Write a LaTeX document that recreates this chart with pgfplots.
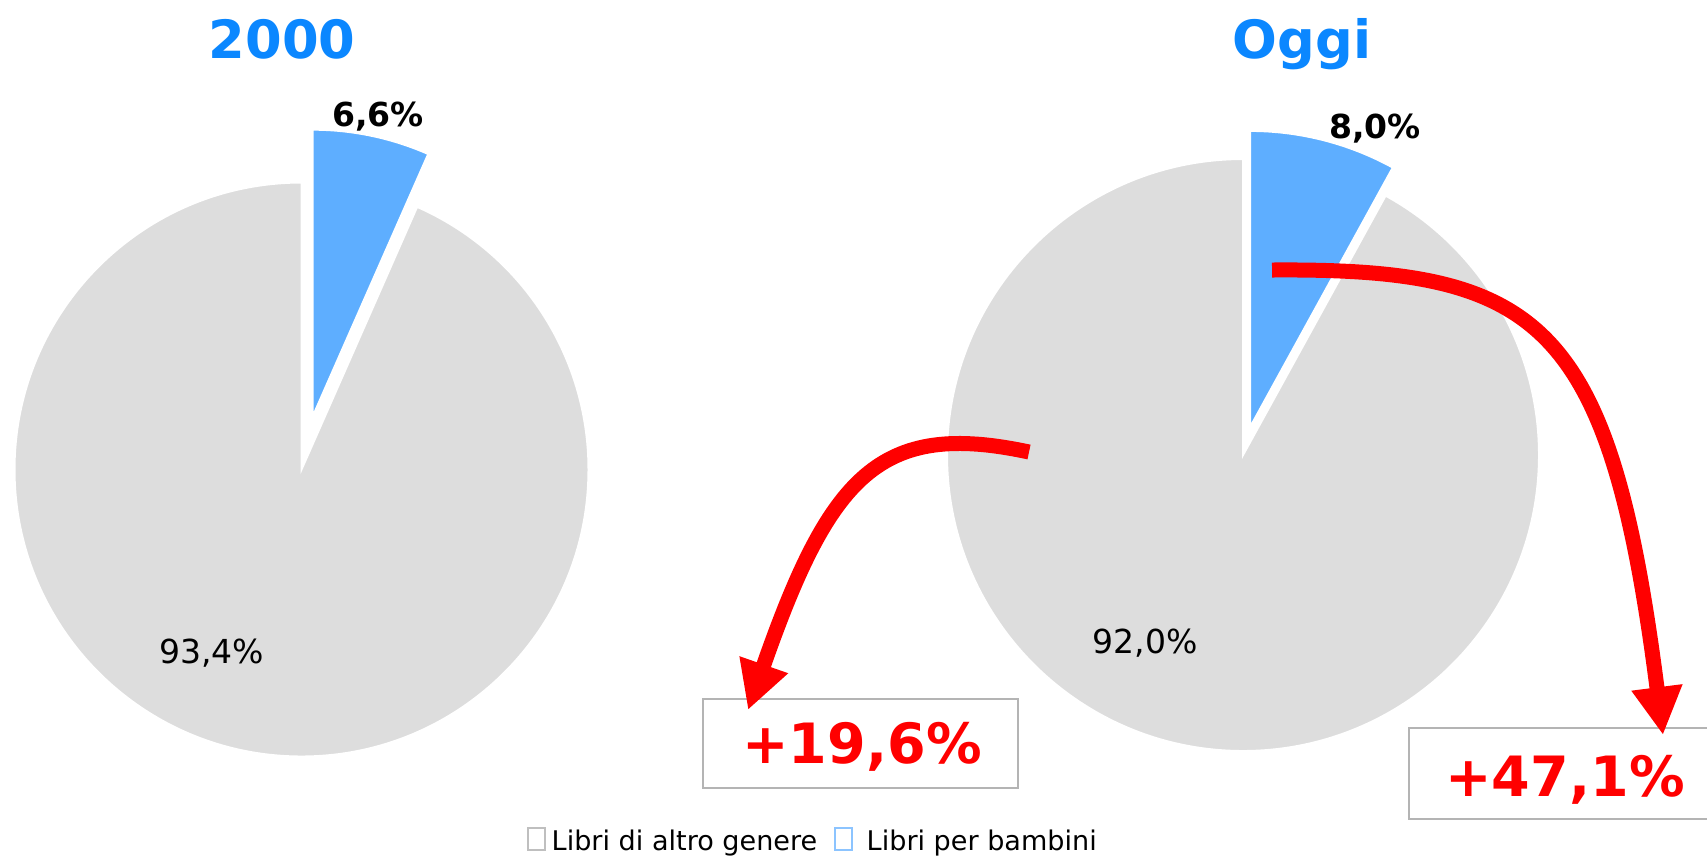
\documentclass[border=0pt]{standalone}
\usepackage{pgfplots}
\pgfplotsset{compat=1.18}
\usepackage{pgfplotstable}
\usepackage{fontspec}
\setmainfont{DejaVu Sans}
\usetikzlibrary{arrows.meta}
\definecolor{othergray}{HTML}{DDDDDD}
\definecolor{kidsblue}{HTML}{5EAEFF}
\definecolor{titleblue}{HTML}{0B87FF}
\definecolor{boxgray}{HTML}{B4B4B4}
\definecolor{legblue}{HTML}{8CC4FF}

% pie centre (px), radius (px), offset of the exploded slice (px), shares (%)
\pgfplotstableread{
pie cx cy r off other kids
0 301.5 469.5 287 54 93.4 6.6
1 1243 455 296 29 92.0 8.0
}\piedata

\begin{document}
\begin{tikzpicture}
% read the two pies
\pgfplotstablegetelem{0}{cx}\of\piedata \let\cxA\pgfplotsretval
\pgfplotstablegetelem{0}{cy}\of\piedata \let\cyA\pgfplotsretval
\pgfplotstablegetelem{0}{r}\of\piedata \pgfmathsetmacro\rA{\pgfplotsretval/100}
\pgfplotstablegetelem{0}{off}\of\piedata \pgfmathsetmacro\offA{\pgfplotsretval/100}
\pgfplotstablegetelem{0}{kids}\of\piedata \pgfmathsetmacro\kidsA{3.6*\pgfplotsretval}
\pgfplotstablegetelem{1}{cx}\of\piedata \let\cxB\pgfplotsretval
\pgfplotstablegetelem{1}{cy}\of\piedata \let\cyB\pgfplotsretval
\pgfplotstablegetelem{1}{r}\of\piedata \pgfmathsetmacro\rB{\pgfplotsretval/100}
\pgfplotstablegetelem{1}{off}\of\piedata \pgfmathsetmacro\offB{\pgfplotsretval/100}
\pgfplotstablegetelem{1}{kids}\of\piedata \pgfmathsetmacro\kidsB{3.6*\pgfplotsretval}
\pgfmathsetmacro\startA{90-\kidsA}
\pgfmathsetmacro\midA{90-\kidsA/2}
\pgfmathsetmacro\endA{450-\kidsA}
\pgfmathsetmacro\startB{90-\kidsB}
\pgfmathsetmacro\midB{90-\kidsB/2}
\pgfmathsetmacro\endB{450-\kidsB}

\begin{axis}[name=ax,
    scale only axis, width=17.07cm, height=8.56cm,
    xmin=0, xmax=1707, ymin=0, ymax=856, y dir=reverse,
    hide axis]

% pie 2000
\fill[othergray, draw=white, line width=0.02cm] (axis cs:\cxA,\cyA) -- ++(90:\rA cm)
    arc[start angle=90, end angle=\endA, radius=\rA cm] -- cycle;
\fill[kidsblue, draw=white, line width=0.02cm] (axis cs:\cxA,\cyA) ++(\midA:\offA cm) -- ++(90:\rA cm)
    arc[start angle=90, end angle=\startA, radius=\rA cm] -- cycle;
% pie oggi
\fill[othergray, draw=white, line width=0.02cm] (axis cs:\cxB,\cyB) -- ++(90:\rB cm)
    arc[start angle=90, end angle=\endB, radius=\rB cm] -- cycle;
\fill[kidsblue, draw=white, line width=0.02cm] (axis cs:\cxB,\cyB) ++(\midB:\offB cm) -- ++(90:\rB cm)
    arc[start angle=90, end angle=\startB, radius=\rB cm] -- cycle;

% titles and labels
\node[anchor=base, inner sep=0, text=titleblue, font=\fontsize{15}{18}\selectfont\bfseries] at (axis cs:282,58) {2000};
\node[anchor=base, inner sep=0, text=titleblue, font=\fontsize{15}{18}\selectfont\bfseries] at (axis cs:1302,58) {Oggi};
\node[anchor=base, inner sep=0, font=\fontsize{9.4}{11}\selectfont\bfseries] at (axis cs:378,126) {6,6\%};
\node[anchor=base, inner sep=0, font=\fontsize{9.4}{11}\selectfont\bfseries] at (axis cs:1375,138) {8,0\%};
\node[anchor=base, inner sep=0, font=\fontsize{9.4}{11}\selectfont] at (axis cs:211.5,663) {93,4\%};
\node[anchor=base, inner sep=0, font=\fontsize{9.4}{11}\selectfont] at (axis cs:1145,653) {92,0\%};

% boxes
\draw[boxgray, line width=0.02cm, fill=white] (axis cs:703,699) rectangle (axis cs:1018,788);
\draw[boxgray, line width=0.02cm, fill=white] (axis cs:1409,728) rectangle (axis cs:1730,819);
\node[anchor=base, inner sep=0, text=red, font=\fontsize{15.8}{18}\selectfont\bfseries] at (axis cs:862,763) {+19,6\%};
\node[anchor=base, inner sep=0, text=red, font=\fontsize{15.8}{18}\selectfont\bfseries] at (axis cs:1565,796) {+47,1\%};

% arrows
\draw[red, line width=0.15cm, -{Triangle[length=0.48cm, width=0.48cm]}]
  (axis cs:1029,452) .. controls (axis cs:880,420) and (axis cs:830,475) .. (axis cs:748,710);
\draw[red, line width=0.15cm, -{Triangle[length=0.48cm, width=0.48cm]}]
  (axis cs:1272,270) .. controls (axis cs:1540,268) and (axis cs:1610,320) .. (axis cs:1663,735);

% legend
\draw[black!25, line width=0.015cm, fill=white] (axis cs:528,828) rectangle (axis cs:545,850);
\node[anchor=base west, inner sep=0, font=\fontsize{7.7}{9}\selectfont] at (axis cs:551,850) {Libri di altro genere};
\draw[legblue, line width=0.015cm, fill=white] (axis cs:835,828) rectangle (axis cs:852,850);
\node[anchor=base west, inner sep=0, font=\fontsize{7.7}{9}\selectfont] at (axis cs:866,850) {Libri per bambini};
\end{axis}
\pgfresetboundingbox
\path (ax.south west) rectangle (ax.north east);
\end{tikzpicture}
\end{document}
